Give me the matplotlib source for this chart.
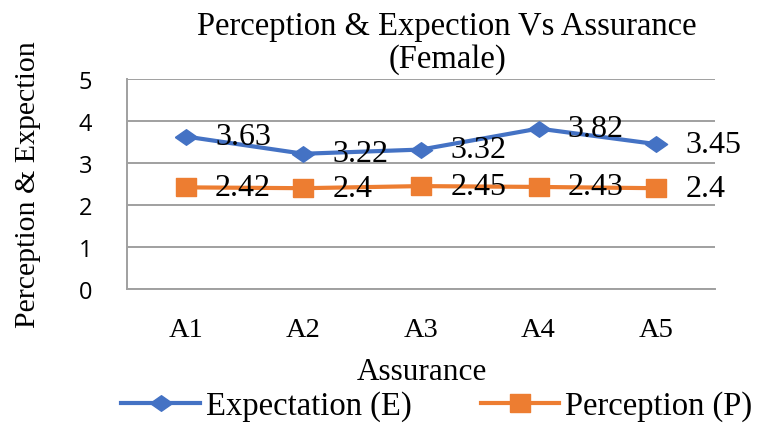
import matplotlib
matplotlib.use("Agg")
import matplotlib.pyplot as plt
from matplotlib.lines import Line2D

categories = ["A1", "A2", "A3", "A4", "A5"]
expectation = [3.63, 3.22, 3.32, 3.82, 3.45]
perception = [2.42, 2.4, 2.45, 2.43, 2.4]
y_ticks = [0, 1, 2, 3, 4, 5]

BLUE = "#4472C4"
ORANGE = "#ED7D31"
GRID = "#A0A0A0"
SERIF = ["Liberation Serif", "DejaVu Serif"]
SANS = ["Open Sans", "DejaVu Sans"]

# slightly wide markers, like the Office chart style
DIAMOND = [(-1, 0), (0, 0.7), (1, 0), (0, -0.7), (-1, 0)]
SQUARE = [(-1, -0.9), (1, -0.9), (1, 0.9), (-1, 0.9), (-1, -0.9)]

fig = plt.figure(figsize=(7.61, 4.27), dpi=100)
ax = fig.add_axes([127 / 761, 1 - 290 / 427, (715 - 127) / 761, (290 - 80) / 427])

x = list(range(len(categories)))
ax.plot(x, expectation, color=BLUE, lw=3, marker=DIAMOND, ms=16, zorder=3)
ax.plot(x, perception, color=ORANGE, lw=3, marker=SQUARE, ms=14.5, zorder=3)

for series in (expectation, perception):
    for xi, v in zip(x, series):
        ax.annotate(f"{v:g}", (xi, v), xytext=(21, 0), textcoords="offset points",
                    ha="left", va="center", fontsize=23, family=SERIF, zorder=4)

ax.set_xlim(-0.5, len(categories) - 0.5)
ax.set_ylim(0, 5)
ax.set_yticks(y_ticks)
ax.set_yticklabels([str(t) for t in y_ticks], family=SANS, fontsize=17)
ax.set_xticks(x)
ax.set_xticklabels(categories, family=SERIF, fontsize=20.5)
ax.tick_params(axis="both", length=0)
ax.tick_params(axis="y", pad=25)
ax.tick_params(axis="x", pad=20)

ax.grid(axis="y", color=GRID, lw=1.4)
ax.set_axisbelow(True)
for s in ["top", "right"]:
    ax.spines[s].set_visible(False)
for s in ["left", "bottom"]:
    ax.spines[s].set_color(GRID)
    ax.spines[s].set_linewidth(1.4)

fig.text(422 / 761, 1 - 373 / 427, "Assurance", ha="center", va="center",
         family=SERIF, fontsize=22.5)
fig.text(28 / 761, 1 - 185 / 427, "Perception & Expection", rotation=90,
         ha="center", va="center", family=SERIF, fontsize=21.5)
fig.text(447 / 761, 1 - 43 / 427, "Perception & Expection Vs Assurance\n(Female)",
         ha="center", va="center", family=SERIF, fontsize=23.5, linespacing=1.1)

handles = [
    Line2D([], [], color=BLUE, lw=3, marker=DIAMOND, ms=16),
    Line2D([], [], color=ORANGE, lw=3, marker=SQUARE, ms=14.5),
]
fig.legend(handles, ["Expectation (E)", "Perception (P)"], ncol=2,
           loc="center", bbox_to_anchor=(437 / 761, 1 - 407 / 427),
           frameon=False, handlelength=2.4, handletextpad=0.2,
           columnspacing=2.1, borderpad=0, prop={"family": SERIF, "size": 23.5})

fig.savefig("out.png", dpi=100, facecolor="white")
